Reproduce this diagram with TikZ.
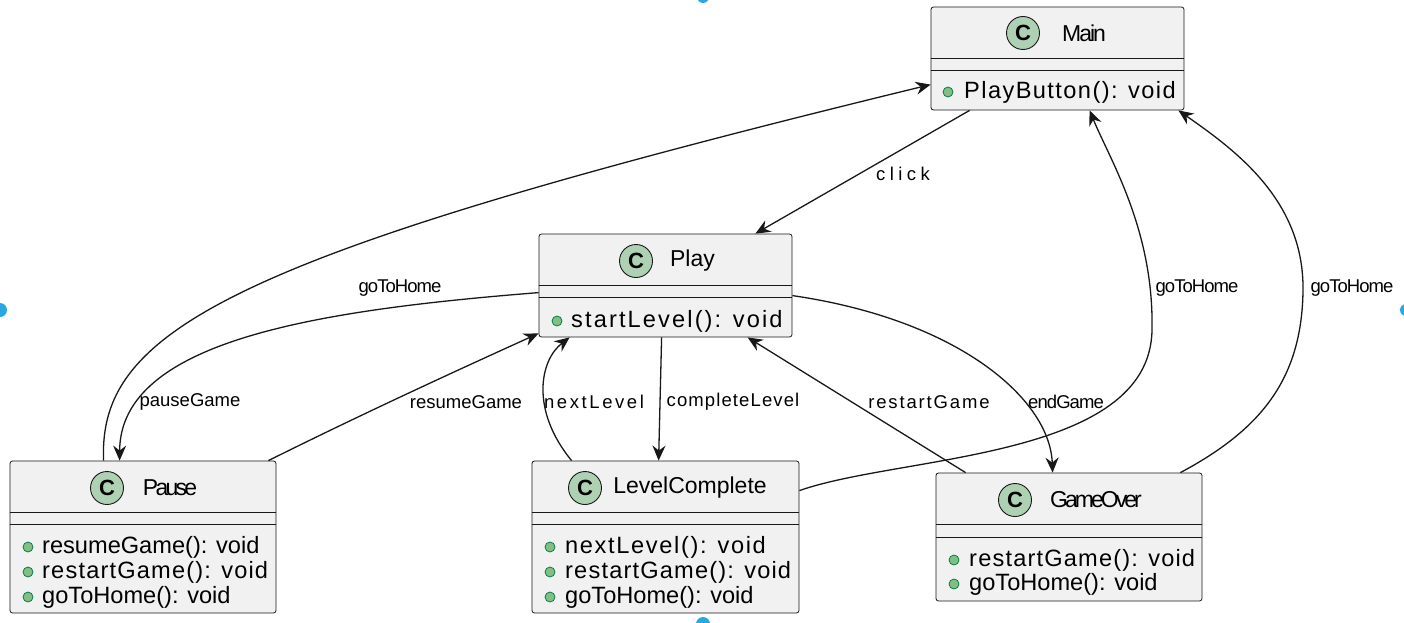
\documentclass[tikz,border=0pt]{standalone}
\usepackage{fontspec}
\setmainfont{Liberation Sans}
\usetikzlibrary{arrows.meta}

\definecolor{boxfill}{HTML}{F1F1F1}
\definecolor{boxline}{HTML}{181818}
\definecolor{cfill}{HTML}{ADD1B2}
\definecolor{dotfill}{HTML}{84BE84}
\definecolor{dotline}{HTML}{038048}
\definecolor{handle}{HTML}{2AA7E3}
\newcommand\track[2]{{\addfontfeature{LetterSpace=#1}#2}}

\begin{document}
\begin{tikzpicture}[x=1pt, y=-1pt]
\tikzstyle{every node}=[inner sep=0pt];
\tikzstyle{classbox}=[draw=boxline, fill=boxfill, rounded corners=2.5pt, line width=0.8pt];
\tikzstyle{divider}=[draw=boxline, line width=0.8pt];
\tikzstyle{cmark}=[circle, draw=boxline, fill=cfill, minimum size=33pt, line width=0.9pt, font=\fontsize{22}{22}\selectfont\bfseries];
\tikzstyle{title}=[font=\fontsize{23}{23}\selectfont];
\tikzstyle{member}=[anchor=west, font=\fontsize{23.6}{25}\selectfont];
\tikzstyle{pub}=[circle, draw=dotline, fill=dotfill, minimum size=10pt, line width=0.8pt];
\tikzstyle{lbl}=[font=\fontsize{18.5}{18.5}\selectfont];
\tikzstyle{arr}=[draw=boxline, line width=1.3pt, -{Stealth[length=15pt, width=13pt, inset=5pt]}];

\useasboundingbox (0,0) rectangle (1404,623);

% Main
\node[classbox, minimum width=253pt, minimum height=103pt] (main) at (1057.5,58.5) {};
\draw[divider] ([yshift=-52pt]main.north west) -- ([yshift=-52pt]main.north east);
\draw[divider] ([yshift=-64pt]main.north west) -- ([yshift=-64pt]main.north east);
\node[cmark] (mainC) at (1023,33) {C};
\node[title] (mainT) at (1084,33) {\track{-9}{Main}};
\node[pub] (mainD1) at (948,92) {};
\node[member] (mainM1) at (964,92) {\track{6}{PlayButton(): void}};

% Play
\node[classbox, minimum width=253pt, minimum height=103pt] (play) at (665.5,285.5) {};
\draw[divider] ([yshift=-52pt]play.north west) -- ([yshift=-52pt]play.north east);
\draw[divider] ([yshift=-64pt]play.north west) -- ([yshift=-64pt]play.north east);
\node[cmark] (playC) at (636,261) {C};
\node[title] (playT) at (692.5,261) {Play};
\node[pub] (playD1) at (557,321) {};
\node[member] (playM1) at (571,321) {\track{9}{startLevel(): void}};

% Pause
\node[classbox, minimum width=266pt, minimum height=152pt] (pause) at (143,537) {};
\draw[divider] ([yshift=-52pt]pause.north west) -- ([yshift=-52pt]pause.north east);
\draw[divider] ([yshift=-64pt]pause.north west) -- ([yshift=-64pt]pause.north east);
\node[cmark] (pauseC) at (107,488) {C};
\node[title] (pauseT) at (170,488) {\track{-12}{Pause}};
\node[pub] (pauseD1) at (28,547) {};
\node[pub] (pauseD2) at (28,572) {};
\node[pub] (pauseD3) at (28,597) {};
\node[member] (pauseM1) at (42,547) {resumeGame(): void};
\node[member] (pauseM2) at (42,572) {\track{5}{restartGame(): void}};
\node[member] (pauseM3) at (42,597) {goToHome(): void};

% LevelComplete
\node[classbox, minimum width=267pt, minimum height=152pt] (lvl) at (665.5,537) {};
\draw[divider] ([yshift=-52pt]lvl.north west) -- ([yshift=-52pt]lvl.north east);
\draw[divider] ([yshift=-64pt]lvl.north west) -- ([yshift=-64pt]lvl.north east);
\node[cmark] (lvlC) at (585,488) {C};
\node[title] (lvlT) at (690,488) {LevelComplete};
\node[pub] (lvlD1) at (550,547) {};
\node[pub] (lvlD2) at (550,572) {};
\node[pub] (lvlD3) at (550,597) {};
\node[member] (lvlM1) at (565,547) {\track{7}{nextLevel(): void}};
\node[member] (lvlM2) at (565,572) {\track{5}{restartGame(): void}};
\node[member] (lvlM3) at (565,597) {goToHome(): void};

% GameOver
\node[classbox, minimum width=266pt, minimum height=128pt] (over) at (1069,537) {};
\draw[divider] ([yshift=-52pt]over.north west) -- ([yshift=-52pt]over.north east);
\draw[divider] ([yshift=-65pt]over.north west) -- ([yshift=-65pt]over.north east);
\node[cmark] (overC) at (1015,500) {C};
\node[title] (overT) at (1096,500) {\track{-13}{GameOver}};
\node[pub] (overD1) at (954,560) {};
\node[pub] (overD2) at (954,584) {};
\node[member] (overM1) at (969,560) {\track{5}{restartGame(): void}};
\node[member] (overM2) at (969,584) {goToHome(): void};

% connectors
\draw[arr] ([xshift=39pt]main.south west) -- ([xshift=-37pt]play.north east);
\draw[arr] ([xshift=94pt]pause.north west) .. controls (98,330) and (230,255) .. ([yshift=-78pt]main.north west);
\draw[arr] ([yshift=-59pt]play.north west) .. controls (320,310) and (120,340) .. ([xshift=110pt]pause.north west);
\draw[arr] ([xshift=-8pt]pause.north east) .. controls (358,416) and (449,374) .. ([yshift=4pt]play.south west);
\draw[arr] ([xshift=40pt]lvl.north west) .. controls (530,410) and (540,360) .. ([xshift=31pt]play.south west);
\draw[arr] ([xshift=123pt]play.south west) -- ([xshift=127pt]lvl.north west);
\draw[arr] ([xshift=30pt]over.north west) -- ([xshift=209pt]play.south west);
\draw[arr] ([yshift=-62pt]play.north east) .. controls (960,320) and (1050,400) .. ([xshift=117pt]over.north west);
\draw[arr] ([yshift=-30pt]lvl.north east) .. controls (900,455) and (1150,460) .. (1152,330)
  .. controls (1154,230) and (1110,160) .. ([xshift=159pt]main.south west);
\draw[arr] ([xshift=-22pt]over.north east) .. controls (1260,430) and (1302,380) .. (1303,290)
  .. controls (1304,200) and (1235,150) .. ([xshift=-6pt]main.south east);

% labels
\node[lbl] (lclick) at (903,174) {\track{24}{click}};
\node[lbl] (lhome1) at (400,288) {\track{-5}{goToHome}};
\node[lbl] (lpause) at (190,402) {pauseGame};
\node[lbl] (lresume) at (466,402) {resumeGame};
\node[lbl] (lnext) at (594,402) {\track{14}{nextLevel}};
\node[lbl] (lcomplete) at (733,402) {\track{6}{completeLevel}};
\node[lbl] (lrestart) at (929,402) {\track{10}{restartGame}};
\node[lbl] (lend) at (1066,402) {\track{-5}{endGame}};
\node[lbl] (lhome2) at (1197,288) {\track{-5}{goToHome}};
\node[lbl] (lhome3) at (1352,288) {\track{-5}{goToHome}};

% frame handles
\fill[handle] (703,-3) circle (6pt);
\fill[handle] (0,310) circle (7pt);
\fill[handle] (1406,310) circle (6pt);
\fill[handle] (703,624) circle (7pt);
\end{tikzpicture}
\end{document}
